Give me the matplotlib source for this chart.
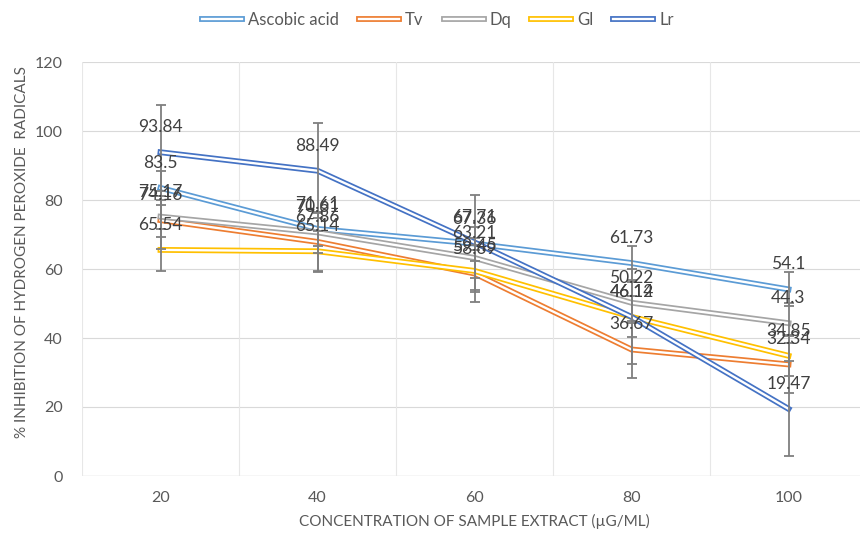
import matplotlib
matplotlib.use("Agg")
import matplotlib.pyplot as plt
from matplotlib.lines import Line2D
from matplotlib.legend_handler import HandlerTuple
import numpy as np

plt.rcParams['font.family'] = ['Lato', 'DejaVu Sans']

categories = ["20", "40", "60", "80", "100"]
series_names = ["Ascobic acid", "Tv", "Dq", "Gl", "Lr"]
ascobic = [83.5, 71.61, 67.36, 61.73, 54.1]
tv = [74.16, 67.86, 58.69, 36.67, 32.34]
dq = [75.17, 70.61, 63.21, 50.22, 44.3]
gl = [65.54, 65.14, 59.45, 46.14, 34.85]
lr = [93.84, 88.49, 67.71, 46.12, 19.47]
# standard-error bar sizes per series
err_ascobic = 4.93
err_tv = 8.34
err_dq = 5.88
err_gl = 5.98
err_lr = 13.79
colors = ["#5B9BD5", "#ED7D31", "#A5A5A5", "#FFC000", "#4472C4"]
yticks = [0, 20, 40, 60, 80, 100, 120]

values = [ascobic, tv, dq, gl, lr]
errs = [err_ascobic, err_tv, err_dq, err_gl, err_lr]

W, H = 860, 535
fig = plt.figure(figsize=(W / 100, H / 100), dpi=100)
left, right, bottom, top = 82, 867, 59, 473
ax = fig.add_axes([left / W, bottom / H, (right - left) / W, (top - bottom) / H])

x = np.arange(len(categories))
text_gray = "#595959"
grid_c = "#D9D9D9"

ax.set_xlim(-0.5, len(categories) - 0.5)
ax.set_ylim(0, 120)
for s in ax.spines.values():
    s.set_visible(False)
for yv in yticks[1:]:
    ax.axhline(yv, color=grid_c, lw=0.8, zorder=0)
ax.axhline(0, color="#BFBFBF", lw=0.9, zorder=0)
for xv in np.arange(-0.5, len(categories) - 0.4, 1.0):
    ax.axvline(xv, color="#E7E7E7", lw=0.8, zorder=0)

ax.set_yticks(yticks)
ax.set_yticklabels([str(v) for v in yticks])
ax.set_xticks(x)
ax.set_xticklabels(categories)
ax.tick_params(axis='both', length=0, labelsize=11.5, colors=text_gray)
ax.tick_params(axis='y', pad=14)
ax.tick_params(axis='x', pad=11)

OUT_LW, IN_LW = 4.2, 1.7
handles = []
for i, (name, vals, c) in enumerate(zip(series_names, values, colors)):
    ax.plot(x, vals, color=c, lw=OUT_LW, solid_joinstyle='miter', zorder=2 + i * 0.1)
    ax.plot(x, vals, color="white", lw=IN_LW, solid_joinstyle='miter', zorder=2.05 + i * 0.1)
    h1 = Line2D([], [], color=c, lw=OUT_LW)
    h2 = Line2D([], [], color="white", lw=IN_LW)
    handles.append((h1, h2))

for vals, e in zip(values, errs):
    ax.errorbar(x, vals, yerr=e, fmt='none', ecolor="#7F7F7F", elinewidth=1.3,
                capsize=3.8, capthick=1.3, zorder=3)

for vals in values:
    for xi, v in zip(x, vals):
        ax.annotate(f"{v:g}", (xi, v), xytext=(0, 18), textcoords='offset points',
                    ha='center', va='center', fontsize=12.5, color="#404040", zorder=4)

ax.set_xlabel("CONCENTRATION OF SAMPLE EXTRACT (\u00b5G/ML)", fontsize=11, color=text_gray, labelpad=6)
fig.text(22 / W, 1 - 252 / H, "% INHIBITION OF HYDROGEN PEROXIDE  RADICALS", rotation=90,
         ha='center', va='center', fontsize=11, color=text_gray)

fig.legend(handles, series_names, loc='center', bbox_to_anchor=(438 / W, 1 - 20 / H),
           ncol=5, frameon=False, fontsize=12, labelcolor=text_gray,
           handlelength=2.4, handletextpad=0.35, columnspacing=1.2,
           handler_map={tuple: HandlerTuple(ndivide=1, pad=0)})

fig.savefig("out.png", dpi=100)
